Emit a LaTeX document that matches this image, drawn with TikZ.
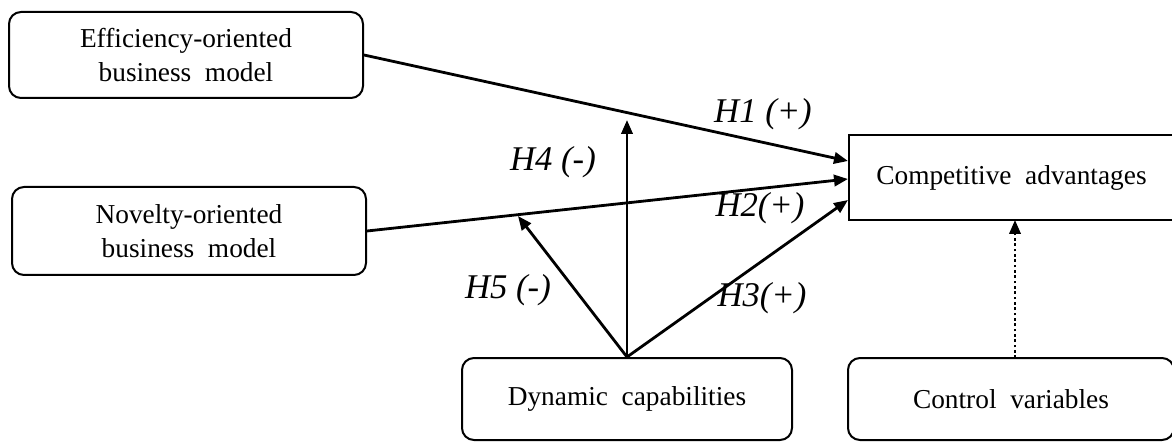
\documentclass[tikz,border=0pt]{standalone}
\usepackage{fontspec}
\setmainfont{Liberation Serif}
\usetikzlibrary{arrows.meta}
\begin{document}
\begin{tikzpicture}[x=0.75pt,y=-0.75pt,
  boxtext/.style={align=center, inner sep=0pt, font=\fontsize{20.5}{26}\selectfont},
  rbox/.style={boxtext, draw, line width=1.5pt, rounded corners=9pt},
  sbox/.style={boxtext, draw, line width=1.5pt},
  link/.style={line width=2.1pt, -{Triangle[length=10.5pt,width=8.5pt]}},
  ctrl/.style={line width=2pt, dotted, -{Triangle[length=10.5pt,width=8.5pt]}},
  lab/.style={inner sep=0pt, font=\fontsize{26}{30}\selectfont\itshape}]
\useasboundingbox (0,0) rectangle (1172,442);
\node[rbox, minimum width=265.5pt, minimum height=64.5pt] (eff) at (186,55) {Efficiency-oriented\\business\ \ model};
\node[rbox, minimum width=265.5pt, minimum height=66pt] (nov) at (189,231) {Novelty-oriented\\business\ \ model};
\node[sbox, minimum width=243.75pt, minimum height=63.75pt] (comp) at (1011.5,177.5) {Competitive\ \ advantages};
\node[rbox, minimum width=247.5pt, minimum height=61.5pt] (dyn) at (627,399) {Dynamic\ \ capabilities};
\node[rbox, minimum width=244.5pt, minimum height=61.5pt] (ctl) at (1011,399) {Control\ \ variables};
\coordinate (t1) at (848,161);
\coordinate (t2) at (848,179);
\coordinate (t3) at (848,200);
\coordinate (t4) at (627,120);
\coordinate (t5) at (518,216);
\coordinate (d0) at (1015,358);
\coordinate (d1) at (1015,220);
\draw[link] (eff.east) -- (t1);
\draw[link] (nov.east) -- (t2);
\draw[link] (dyn.north) -- (t3);
\draw[link] (dyn.north) -- (t4);
\draw[link] (dyn.north) -- (t5);
\draw[ctrl] (d0) -- (d1);
\node[lab] (l1) at (763,114) {H1 (+)};
\node[lab] (l4) at (553,162) {H4 (-)};
\node[lab] (l2) at (760,208) {H2(+)};
\node[lab] (l5) at (508,290) {H5 (-)};
\node[lab] (l3) at (762,298) {H3(+)};
\end{tikzpicture}
\end{document}
